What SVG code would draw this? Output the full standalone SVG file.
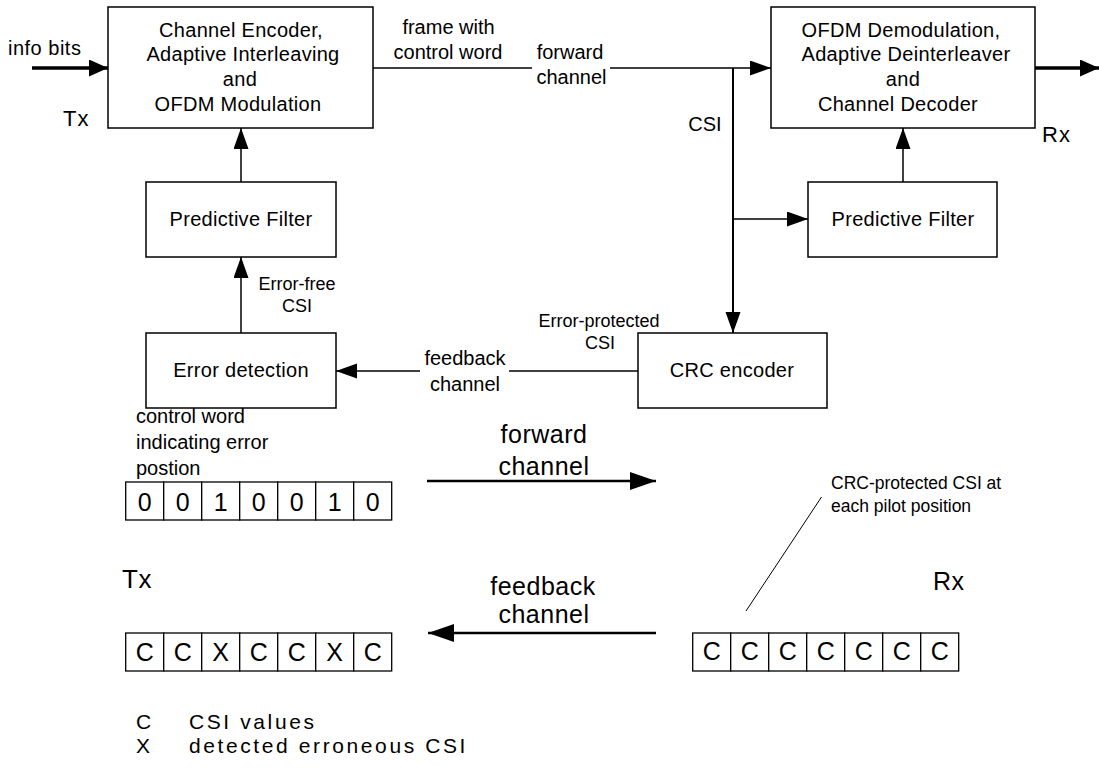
<svg xmlns="http://www.w3.org/2000/svg" width="1099" height="777" viewBox="0 0 1099 777">
<style>
  text { font-family: "Liberation Sans", Arial, Helvetica, sans-serif; fill: #000; }
  .box { fill: #fff; stroke: #000; stroke-width: 1.5; }
  .cell { fill: #fff; stroke: #000; stroke-width: 1.3; }
  .bt { font-size: 20px; text-anchor: middle; letter-spacing: 0.3px; }
  .lb { font-size: 20px; }
  .sm { font-size: 18px; }
  .big { font-size: 25px; letter-spacing: 0.5px; }
  .cellt { font-size: 25px; text-anchor: middle; }
  .leg { font-size: 21px; letter-spacing: 2.6px; }
  .mid { text-anchor: middle; }
  .thin { stroke: #000; stroke-width: 1.5; fill: none; }
  .med { stroke: #000; stroke-width: 2; fill: none; }
  .thick { stroke: #000; stroke-width: 3.5; fill: none; }
  .bthick { stroke: #000; stroke-width: 2.6; fill: none; }
</style>
<defs>
  <marker id="ah" markerUnits="userSpaceOnUse" markerWidth="22" markerHeight="16" refX="21" refY="7.5" orient="auto">
    <path d="M0,0 L21,7.5 L0,15 z" fill="#000"/>
  </marker>
  <marker id="ahb" markerUnits="userSpaceOnUse" markerWidth="27" markerHeight="19" refX="26" refY="9" orient="auto">
    <path d="M0,0 L26,9 L0,18 z" fill="#000"/>
  </marker>
  <marker id="ahi" markerUnits="userSpaceOnUse" markerWidth="20" markerHeight="18" refX="19" refY="8.5" orient="auto">
    <path d="M0,0 L19,8.5 L0,17 z" fill="#000"/>
  </marker>
</defs>

<g id="connectors">
  <line class="thick" x1="32" y1="68" x2="108" y2="68" marker-end="url(#ahi)"/>
  <line class="thin" x1="373" y1="68" x2="532" y2="68"/>
  <line class="thin" x1="610" y1="68" x2="771" y2="68" marker-end="url(#ah)"/>
  <line class="thick" x1="1035" y1="68" x2="1099" y2="68" marker-end="url(#ahi)"/>
  <line class="med" x1="733" y1="68" x2="733" y2="333" marker-end="url(#ah)"/>
  <line class="thin" x1="733" y1="219" x2="808" y2="219" marker-end="url(#ah)"/>
  <line class="thin" x1="903" y1="182" x2="903" y2="128" marker-end="url(#ah)"/>
  <line class="thin" x1="241" y1="182" x2="241" y2="128" marker-end="url(#ah)"/>
  <line class="thin" x1="241" y1="333" x2="241" y2="257" marker-end="url(#ah)"/>
  <line class="thin" x1="638" y1="371" x2="509" y2="371"/>
  <line class="thin" x1="420" y1="371" x2="336" y2="371" marker-end="url(#ah)"/>
  <line class="bthick" x1="427" y1="481" x2="656" y2="481" marker-end="url(#ahb)"/>
  <line class="bthick" x1="656" y1="633" x2="428" y2="633" marker-end="url(#ahb)"/>
  <line stroke="#000" stroke-width="1" x1="821.5" y1="497" x2="746" y2="611"/>
</g>

<g id="enc">
  <rect class="box" x="108" y="7" width="265" height="121"/>
  <text class="bt" x="241" y="36.5">Channel Encoder,</text>
  <text class="bt" x="243" y="61">Adaptive Interleaving</text>
  <text class="bt" x="240" y="86">and</text>
  <text class="bt" x="238" y="111">OFDM Modulation</text>
</g>

<g id="dec">
  <rect class="box" x="771" y="7" width="264" height="121"/>
  <text class="bt" x="901" y="36.5">OFDM Demodulation,</text>
  <text class="bt" x="906" y="61">Adaptive Deinterleaver</text>
  <text class="bt" x="903" y="86">and</text>
  <text class="bt" x="898" y="111">Channel Decoder</text>
</g>

<g id="pf-tx">
  <rect class="box" x="146" y="182" width="190" height="75"/>
  <text class="bt" x="241" y="226">Predictive Filter</text>
</g>

<g id="pf-rx">
  <rect class="box" x="808" y="182" width="189" height="75"/>
  <text class="bt" x="903" y="226">Predictive Filter</text>
</g>

<g id="err-det">
  <rect class="box" x="146" y="333" width="190" height="75"/>
  <text class="bt" x="241" y="377">Error detection</text>
</g>

<g id="crc">
  <rect class="box" x="638" y="333" width="189" height="75"/>
  <text class="bt" x="732" y="377">CRC encoder</text>
</g>

<g id="labels">
  <text class="lb" x="8" y="55" style="letter-spacing:0.5px">info bits</text>
  <text class="lb" x="63" y="126" style="font-size:22px;letter-spacing:1px">Tx</text>
  <text class="lb" x="1042" y="142" style="font-size:22px;letter-spacing:1px">Rx</text>
  <text class="lb mid" x="448.5" y="34">frame with</text>
  <text class="lb mid" x="448" y="59">control word</text>
  <text class="lb mid" x="570" y="59">forward</text>
  <text class="lb mid" x="571.5" y="84">channel</text>
  <text class="lb mid" x="705" y="131">CSI</text>
  <text class="sm mid" x="297" y="290">Error-free</text>
  <text class="sm mid" x="297" y="312">CSI</text>
  <text class="sm mid" x="599" y="327">Error-protected</text>
  <text class="sm mid" x="600" y="349">CSI</text>
  <text class="lb mid" x="465" y="365">feedback</text>
  <text class="lb mid" x="465" y="391">channel</text>
  <text class="lb" x="136" y="423">control word</text>
  <text class="lb" x="136" y="449">indicating error</text>
  <text class="lb" x="136" y="475">postion</text>
  <text class="big mid" x="544" y="443">forward</text>
  <text class="big mid" x="544" y="475">channel</text>
  <text class="big mid" x="543" y="595">feedback</text>
  <text class="big mid" x="544" y="623">channel</text>
  <text class="big" x="122" y="588" style="font-size:26px">Tx</text>
  <text class="big" x="933" y="590" style="font-size:25px">Rx</text>
  <text x="831" y="489" style="font-size:17.5px">CRC-protected CSI at</text>
  <text x="831" y="512" style="font-size:17.5px">each pilot position</text>
</g>

<g id="cells-cw">
  <rect class="cell" x="125.7" y="482" width="38" height="38"/>
  <rect class="cell" x="163.7" y="482" width="38" height="38"/>
  <rect class="cell" x="201.7" y="482" width="38" height="38"/>
  <rect class="cell" x="239.7" y="482" width="38" height="38"/>
  <rect class="cell" x="277.7" y="482" width="38" height="38"/>
  <rect class="cell" x="315.7" y="482" width="38" height="38"/>
  <rect class="cell" x="353.7" y="482" width="38" height="38"/>
  <text class="cellt" x="144.7" y="510.5">0</text>
  <text class="cellt" x="182.7" y="510.5">0</text>
  <text class="cellt" x="220.7" y="510.5">1</text>
  <text class="cellt" x="258.7" y="510.5">0</text>
  <text class="cellt" x="296.7" y="510.5">0</text>
  <text class="cellt" x="334.7" y="510.5">1</text>
  <text class="cellt" x="372.7" y="510.5">0</text>
</g>

<g id="cells-tx">
  <rect class="cell" x="125.7" y="633" width="38" height="38"/>
  <rect class="cell" x="163.7" y="633" width="38" height="38"/>
  <rect class="cell" x="201.7" y="633" width="38" height="38"/>
  <rect class="cell" x="239.7" y="633" width="38" height="38"/>
  <rect class="cell" x="277.7" y="633" width="38" height="38"/>
  <rect class="cell" x="315.7" y="633" width="38" height="38"/>
  <rect class="cell" x="353.7" y="633" width="38" height="38"/>
  <text class="cellt" x="144.7" y="661">C</text>
  <text class="cellt" x="182.7" y="661">C</text>
  <text class="cellt" x="220.7" y="661">X</text>
  <text class="cellt" x="258.7" y="661">C</text>
  <text class="cellt" x="296.7" y="661">C</text>
  <text class="cellt" x="334.7" y="661">X</text>
  <text class="cellt" x="372.7" y="661">C</text>
</g>

<g id="cells-rx">
  <rect class="cell" x="692.7" y="633" width="38" height="38"/>
  <rect class="cell" x="730.7" y="633" width="38" height="38"/>
  <rect class="cell" x="768.7" y="633" width="38" height="38"/>
  <rect class="cell" x="806.7" y="633" width="38" height="38"/>
  <rect class="cell" x="844.7" y="633" width="38" height="38"/>
  <rect class="cell" x="882.7" y="633" width="38" height="38"/>
  <rect class="cell" x="920.7" y="633" width="38" height="38"/>
  <text class="cellt" x="711.7" y="660">C</text>
  <text class="cellt" x="749.7" y="660">C</text>
  <text class="cellt" x="787.7" y="660">C</text>
  <text class="cellt" x="825.7" y="660">C</text>
  <text class="cellt" x="863.7" y="660">C</text>
  <text class="cellt" x="901.7" y="660">C</text>
  <text class="cellt" x="939.7" y="660">C</text>
</g>

<g id="legend">
  <text class="leg" x="136" y="729">C</text>
  <text class="leg" x="189" y="729">CSI values</text>
  <text class="leg" x="136" y="753">X</text>
  <text class="leg" x="189" y="753">detected erroneous CSI</text>
</g>
</svg>
